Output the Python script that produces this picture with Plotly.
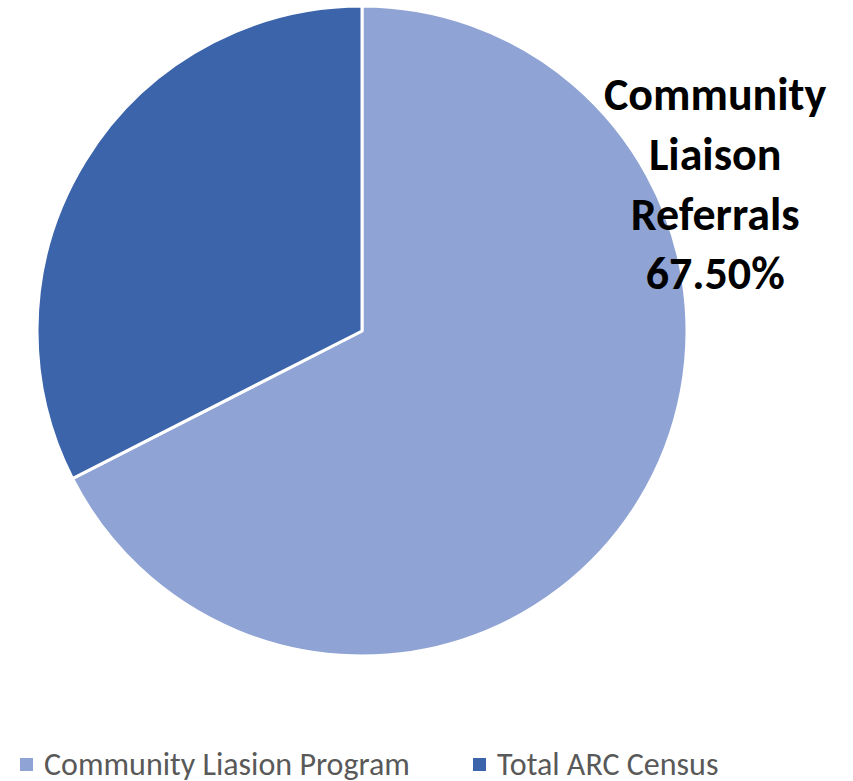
import plotly.graph_objects as go

# Share of referrals by source
labels = ["Community Liasion Program", "Total ARC Census"]
values = [67.5, 32.5]
colors = ["#8FA4D4", "#3C64AB"]
callout_title = "Community<br>Liaison<br>Referrals"

W, H = 853, 781

fig = go.Figure(
    go.Pie(
        labels=labels,
        values=values,
        sort=False,
        direction="clockwise",
        rotation=0,
        marker=dict(colors=colors, line=dict(color="white", width=3)),
        textinfo="none",
        hoverinfo="label+percent",
        domain=dict(x=[37 / W, 687 / W], y=[1 - 656 / H, 1 - 6 / H]),
        showlegend=False,
    )
)

share = values[0] / sum(values) * 100
fig.add_annotation(
    x=715 / W,
    y=1 - 183 / H,
    xref="paper",
    yref="paper",
    text=f"<b>{callout_title}<br>{share:.2f}%</b>",
    showarrow=False,
    align="center",
    xanchor="center",
    yanchor="middle",
    font=dict(family="Carlito, Lato, 'Open Sans', sans-serif", size=46, color="black"),
)

# Legend row along the bottom: colour swatch followed by the slice name
legend_x = [20, 473]
legend_y = 764
for x0, name, col in zip(legend_x, labels, colors):
    fig.add_shape(
        type="rect",
        xref="paper",
        yref="paper",
        x0=x0 / W,
        x1=(x0 + 13) / W,
        y0=1 - 771 / H,
        y1=1 - 758 / H,
        fillcolor=col,
        line=dict(width=0),
    )
    fig.add_annotation(
        x=(x0 + 22) / W,
        y=1 - legend_y / H,
        xref="paper",
        yref="paper",
        text=name,
        showarrow=False,
        xanchor="left",
        yanchor="middle",
        font=dict(family="Carlito, Lato, sans-serif", size=32, color="#595959"),
    )

fig.update_layout(
    width=W,
    height=H,
    margin=dict(l=0, r=0, t=0, b=0, autoexpand=False),
    paper_bgcolor="white",
    plot_bgcolor="white",
    showlegend=False,
)

fig.write_html("out.html")
